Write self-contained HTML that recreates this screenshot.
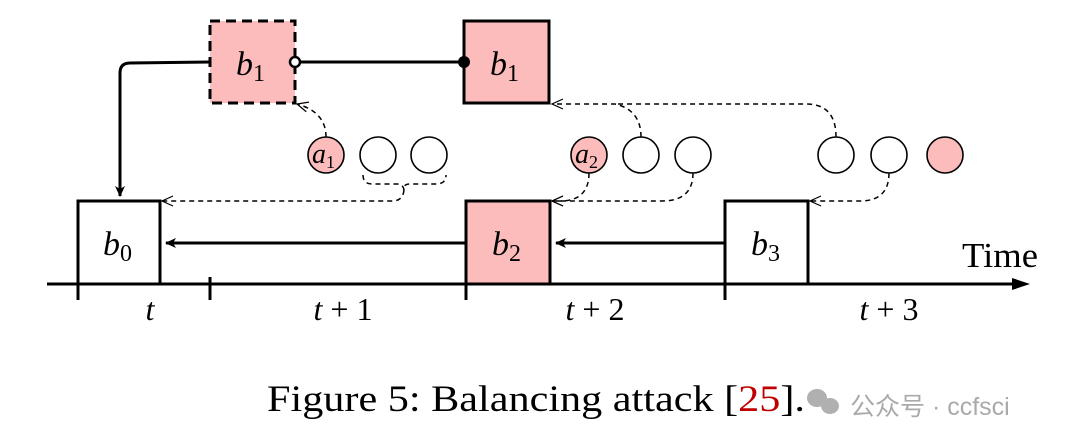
<!DOCTYPE html>
<html><head><meta charset="utf-8"><style>
html,body{margin:0;padding:0;background:#fff;}
svg{display:block;}
.m{font-family:"Liberation Serif",serif;font-style:italic;}
.r{font-family:"Liberation Serif",serif;}
</style></head><body>
<svg width="1080" height="448" viewBox="0 0 1080 448" xmlns="http://www.w3.org/2000/svg">
<defs>
<marker id="ah" markerWidth="12" markerHeight="12" refX="10" refY="6" orient="auto" markerUnits="userSpaceOnUse"><path d="M0,1 L11,6 L0,11 L3,6 Z" fill="#000"/></marker>
<marker id="oa" markerWidth="14" markerHeight="12" refX="12" refY="6" orient="auto" markerUnits="userSpaceOnUse"><path d="M1,1 L12,6 L1,11" fill="none" stroke="#000" stroke-width="1.2"/></marker>
</defs>
<g fill="#fcbcbc" stroke="#000" stroke-width="3">
<rect x="210" y="21" width="85" height="82" stroke-dasharray="10,6"/>
<rect x="464" y="21" width="85" height="82"/>
<rect x="466" y="201" width="84" height="83"/>
</g>
<g fill="none" stroke="#000" stroke-width="3">
<rect x="78" y="201" width="82" height="83"/>
<rect x="725" y="201" width="83" height="83"/>
<line x1="295" y1="62" x2="464" y2="62"/>
<path d="M210,62 L130,63 Q120,63 120,73 L120,196" marker-end="url(#ah)"/>
<line x1="466" y1="243" x2="166" y2="243" marker-end="url(#ah)"/>
<line x1="725" y1="243" x2="556" y2="243" marker-end="url(#ah)"/>
<line x1="47" y1="284" x2="1025" y2="284" marker-end="url(#ah)"/>
<line x1="78" y1="277" x2="78" y2="300"/>
<line x1="210" y1="277" x2="210" y2="300"/>
<line x1="466" y1="277" x2="466" y2="300"/>
<line x1="725" y1="277" x2="725" y2="300"/>
</g>
<path d="M1012,278 L1030,284 L1012,290 Z" fill="#000"/>
<circle cx="295" cy="62" r="5" fill="#fff" stroke="#000" stroke-width="2.5"/>
<circle cx="464" cy="62" r="6" fill="#000"/>
<g stroke="#000" stroke-width="1.6">
<circle cx="326" cy="155" r="18" fill="#fcbcbc"/>
<circle cx="378" cy="155" r="18" fill="#fff"/>
<circle cx="429" cy="155" r="18" fill="#fff"/>
<circle cx="589" cy="155" r="18" fill="#fcbcbc"/>
<circle cx="641" cy="155" r="18" fill="#fff"/>
<circle cx="693" cy="155" r="18" fill="#fff"/>
<circle cx="836" cy="155" r="18" fill="#fff"/>
<circle cx="889" cy="155" r="18" fill="#fff"/>
<circle cx="945" cy="155" r="18" fill="#fcbcbc"/>
</g>
<g fill="none" stroke="#000" stroke-width="1.5" stroke-dasharray="5,4">
<path d="M326,137 Q326,112 297,104" marker-end="url(#oa)"/>
<path d="M363,175 Q363,184 372,184 L397,184 Q403,184 404,190 Q403,184 410,184 L436,184 Q446,184 446,175"/>
<path d="M404,190 Q403,201 392,201 L162,201" marker-end="url(#oa)"/>
<path d="M641,137 Q641,110 615,104 L552,104" marker-end="url(#oa)"/>
<path d="M836,137 Q836,104 806,104 L615,104"/>
<path d="M589,173 Q589,201 560,201 L552,201" marker-end="url(#oa)"/>
<path d="M693,173 Q693,201 662,201 L552,201" marker-end="url(#oa)"/>
<path d="M889,173 Q889,201 860,201 L810,201" marker-end="url(#oa)"/>
</g>
<g class="m" font-size="34" fill="#000">
<text x="236" y="75">b<tspan class="r" font-style="normal" font-size="24" dy="6">1</tspan></text>
<text x="490" y="75">b<tspan class="r" font-style="normal" font-size="24" dy="6">1</tspan></text>
<text x="103" y="255">b<tspan class="r" font-style="normal" font-size="24" dy="6">0</tspan></text>
<text x="492" y="255">b<tspan class="r" font-style="normal" font-size="24" dy="6">2</tspan></text>
<text x="751" y="255">b<tspan class="r" font-style="normal" font-size="24" dy="6">3</tspan></text>
<text x="312" y="163" font-size="28">a<tspan class="r" font-style="normal" font-size="18" dy="5">1</tspan></text>
<text x="575" y="163" font-size="28">a<tspan class="r" font-style="normal" font-size="18" dy="5">2</tspan></text>
</g>
<text class="r" x="962" y="267" font-size="35" textLength="76" lengthAdjust="spacingAndGlyphs">Time</text>
<g class="r" font-size="32" text-anchor="middle">
<text x="150" y="320"><tspan font-style="italic">t</tspan></text>
<text x="343" y="320"><tspan font-style="italic">t</tspan> + 1</text>
<text x="595" y="320"><tspan font-style="italic">t</tspan> + 2</text>
<text x="889" y="320"><tspan font-style="italic">t</tspan> + 3</text>
</g>
<text class="r" x="267" y="411" font-size="37" textLength="538" lengthAdjust="spacingAndGlyphs">Figure 5: Balancing attack [<tspan fill="#c00000">25</tspan>].</text>
<g fill="#b0b0b0">
<ellipse cx="817" cy="398" rx="10" ry="9"/><ellipse cx="830" cy="406" rx="9" ry="8"/>
</g>
<text x="850" y="415" font-size="25" fill="#aaa" font-family="Liberation Sans, Noto Sans CJK SC, sans-serif">公众号 · ccfsci</text>
</svg>
</body></html>
